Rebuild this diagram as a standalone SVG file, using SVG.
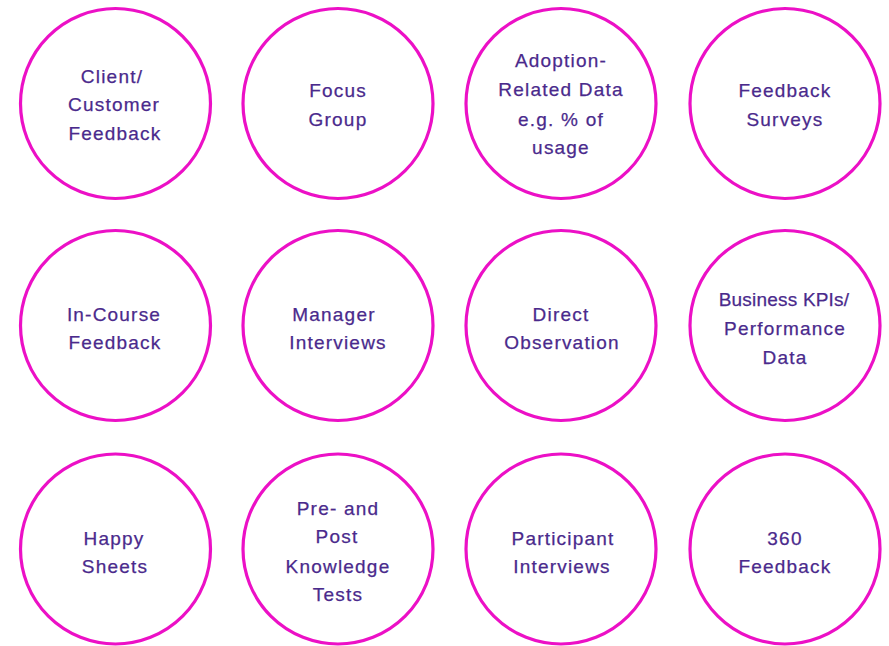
<svg xmlns="http://www.w3.org/2000/svg" width="889" height="646" viewBox="0 0 889 646">
  <style>
    .ring { fill: #ffffff; stroke: #EC10C6; stroke-width: 3.2; }
    .label { font-family: "Liberation Sans", Arial, sans-serif; font-size: 19px; letter-spacing: 1.2px; fill: #4A2A8C; text-anchor: middle; stroke: #4A2A8C; stroke-width: 0.25; }
    .tight { letter-spacing: 0.2px; }
  </style>
  <rect width="889" height="646" fill="#ffffff"/>

  <!-- Row 1 -->
  <g id="client-feedback">
    <circle class="ring" cx="115.5" cy="103.5" r="95"/>
    <text class="label"><tspan x="112" y="83">Client/</tspan><tspan x="114" y="111">Customer</tspan><tspan x="115" y="140">Feedback</tspan></text>
  </g>
  <g id="focus-group">
    <circle class="ring" cx="338" cy="103.5" r="95"/>
    <text class="label"><tspan x="338" y="97">Focus</tspan><tspan x="338" y="126">Group</tspan></text>
  </g>
  <g id="adoption-data">
    <circle class="ring" cx="561" cy="103.5" r="95"/>
    <text class="label"><tspan x="561" y="67">Adoption-</tspan><tspan x="561" y="96">Related Data</tspan><tspan x="561" y="126">e.g. % of</tspan><tspan x="561" y="154">usage</tspan></text>
  </g>
  <g id="feedback-surveys">
    <circle class="ring" cx="785" cy="103.5" r="95"/>
    <text class="label"><tspan x="785" y="97">Feedback</tspan><tspan x="785" y="126">Surveys</tspan></text>
  </g>

  <!-- Row 2 -->
  <g id="in-course-feedback">
    <circle class="ring" cx="115.5" cy="325.5" r="95"/>
    <text class="label"><tspan x="114" y="321">In-Course</tspan><tspan x="115" y="349">Feedback</tspan></text>
  </g>
  <g id="manager-interviews">
    <circle class="ring" cx="338" cy="325.5" r="95"/>
    <text class="label"><tspan x="334" y="321">Manager</tspan><tspan x="338" y="349">Interviews</tspan></text>
  </g>
  <g id="direct-observation">
    <circle class="ring" cx="561" cy="325.5" r="95"/>
    <text class="label"><tspan x="561" y="321">Direct</tspan><tspan x="562" y="349">Observation</tspan></text>
  </g>
  <g id="business-kpis">
    <circle class="ring" cx="785" cy="325.5" r="95"/>
    <text class="label"><tspan class="tight" x="784" y="306">Business KPIs/</tspan><tspan x="785" y="335">Performance</tspan><tspan x="785" y="364">Data</tspan></text>
  </g>

  <!-- Row 3 -->
  <g id="happy-sheets">
    <circle class="ring" cx="115.5" cy="549" r="95"/>
    <text class="label"><tspan x="114" y="545">Happy</tspan><tspan x="115" y="573">Sheets</tspan></text>
  </g>
  <g id="knowledge-tests">
    <circle class="ring" cx="338" cy="549" r="95"/>
    <text class="label"><tspan x="338" y="515">Pre- and</tspan><tspan x="337" y="543">Post</tspan><tspan x="338" y="573">Knowledge</tspan><tspan x="338" y="601">Tests</tspan></text>
  </g>
  <g id="participant-interviews">
    <circle class="ring" cx="561" cy="549" r="95"/>
    <text class="label"><tspan x="563" y="545">Participant</tspan><tspan x="562" y="573">Interviews</tspan></text>
  </g>
  <g id="feedback-360">
    <circle class="ring" cx="785" cy="549" r="95"/>
    <text class="label"><tspan x="785" y="545">360</tspan><tspan x="785" y="573">Feedback</tspan></text>
  </g>

  <!-- No connectors between the circles -->
  <g id="connectors"/>
</svg>
